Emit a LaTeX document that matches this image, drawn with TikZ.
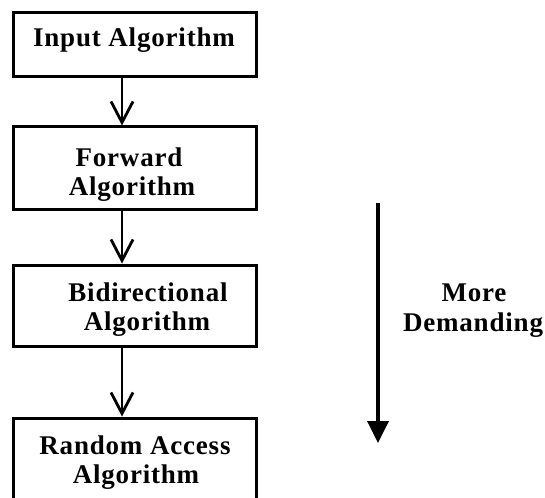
\documentclass[tikz,border=0pt]{standalone}
\usepackage{fontspec}
\setmainfont{Liberation Serif}[LetterSpace=3]
\usetikzlibrary{arrows.meta}
\begin{document}
\begin{tikzpicture}[x=1pt,y=-1pt,
  stagebox/.style={draw, line width=3pt, rectangle, inner sep=0pt, minimum width=243pt},
  words/.style={anchor=base, inner sep=0pt, font=\fontsize{27}{28}\selectfont\bfseries},
  flow/.style={line width=2.8pt, -{Straight Barb[length=21pt,width=22pt,line width=2.8pt]}},
  trend/.style={line width=3.6pt, -{Triangle[length=22pt,width=21pt]}}]
\useasboundingbox (0,0) rectangle (545,497);
\clip (0,0) rectangle (545,497);

% algorithm stages, top to bottom (the last one runs past the lower edge)
\node[stagebox, minimum height=64pt] (b1) at (135,45) {};
\node[stagebox, minimum height=82pt] (b2) at (134.5,168) {};
\node[stagebox, minimum height=81pt] (b3) at (134.5,305.5) {};
\node[stagebox, minimum height=82pt] (b4) at (134.5,459) {};

% stage names
\node[words] (t1)  at (134,47)  {Input Algorithm};
\node[words] (t2a) at (129,166) {Forward};
\node[words] (t2b) at (132,195) {Algorithm};
\node[words] (t3a) at (148,301) {Bidirectional};
\node[words] (t3b) at (147,330) {Algorithm};
\node[words] (t4a) at (135,454) {Random Access};
\node[words] (t4b) at (136,483) {Algorithm};

% column of the connecting arrows
\coordinate (ax) at (122,0);
\draw[flow] (b1.south -| ax) -- (b2.north -| ax);
\draw[flow] (b2.south -| ax) -- (b3.north -| ax);
\draw[flow] (b3.south -| ax) -- (b4.north -| ax);

% demand trend
\coordinate (t0) at (378,203);
\coordinate (t1end) at (378,443);
\draw[trend] (t0) -- (t1end);
\node[words] (m1) at (474,301) {More};
\node[words] (m2) at (473,331) {Demanding};
\end{tikzpicture}
\end{document}
